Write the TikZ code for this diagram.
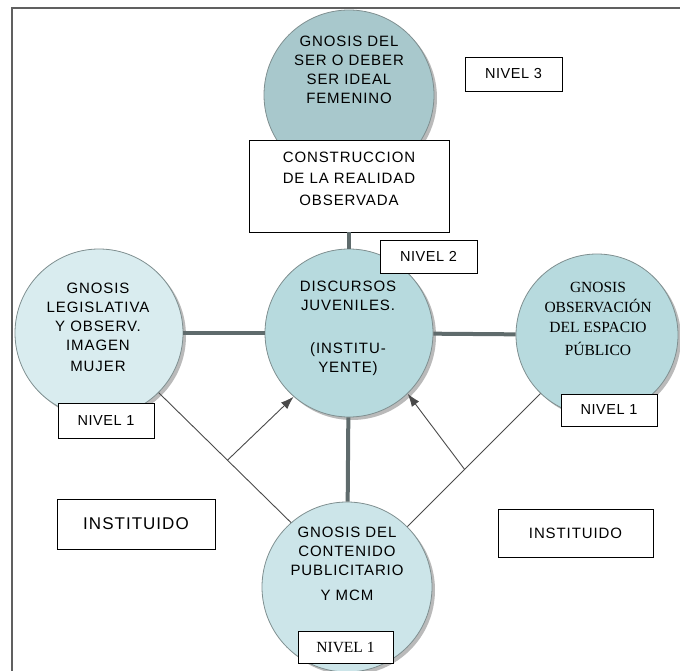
\documentclass[tikz,border=0pt]{standalone}
\usepackage{fontspec}
\setmainfont{Liberation Sans}
\newfontfamily\widesans[LetterSpace=6]{Liberation Sans}
\newfontfamily\nivelsans[LetterSpace=4]{Liberation Sans}
\newfontfamily\bigsans[LetterSpace=6]{Liberation Sans}
\newfontfamily\serifface{Liberation Serif}
\usepackage{tikz}
\usetikzlibrary{arrows.meta,shadows,positioning}

\definecolor{tealdark}{HTML}{A8C8CC}
\definecolor{tealmid}{HTML}{B7DADE}
\definecolor{tealpale}{HTML}{D9ECEF}
\definecolor{teallight}{HTML}{CCE5E9}
\definecolor{rimgray}{HTML}{7F8F90}
\definecolor{trunkgray}{HTML}{5F6B6C}
\definecolor{twiggray}{HTML}{4A4A4A}
\definecolor{framegray}{HTML}{606060}

\begin{document}
\begin{tikzpicture}[x=1pt, y=-1pt,
    bubble/.style={circle, draw=rimgray, line width=0.8pt, inner sep=0pt,
      drop shadow={shadow xshift=3pt, shadow yshift=-3pt, fill=black!45, opacity=0.6}},
    plainbox/.style={draw=black, fill=white, line width=0.8pt, inner sep=0pt},
    nivelbox/.style={plainbox, minimum width=97pt, minimum height=34pt,
      font=\nivelsans\fontsize{14.5}{17}\selectfont},
    capstext/.style={align=center, font=\widesans\fontsize{15}{19}\selectfont},
    trunk/.style={draw=trunkgray, line width=4pt},
    twig/.style={draw=twiggray, line width=0.9pt}]
  \useasboundingbox (0,0) rectangle (680,671);
  % frame
  \draw[framegray, line width=1.5pt] (12,671) -- (12,8) -- (680,8);

  % circles
  \node[bubble, fill=tealdark, minimum size=170pt] (ser) at (349,95) {};
  \node[bubble, fill=tealmid, minimum size=168pt] (disc) at (349,333) {};
  \node[bubble, fill=tealpale, minimum size=168pt] (legis) at (99,333) {};
  \node[bubble, fill=tealmid, minimum size=162pt] (espacio) at (597,335) {};
  \node[bubble, fill=teallight, minimum size=170pt] (publi) at (347,587) {};

  % observed reality box over the top circle
  \node[plainbox, minimum width=200pt, minimum height=92pt] (constr) at (349,186) {};

  % connectors
  \draw[trunk] (constr) -- (disc);
  \draw[trunk] (legis) -- (disc);
  \draw[trunk] (disc) -- (espacio);
  \draw[trunk] (disc) -- (publi);
  \draw[twig] (legis.-45) -- coordinate[pos=0.52] (lfork) (publi.131);
  \draw[twig] (espacio.226) -- coordinate[pos=0.57] (rfork) (publi.45);
  \draw[twig, -{Latex[length=13pt,width=9pt]}] (lfork) -- (disc.229);
  \draw[twig, -{Latex[length=13pt,width=9pt]}] (rfork) -- (disc.-46);

  % texts
  \node[capstext] (sertext) at (349,70) {GNOSIS DEL\\SER O DEBER\\SER IDEAL\\FEMENINO};
  \node[capstext, font=\widesans\fontsize{15}{21.5}\selectfont] (constrtext) at (349,178.5)
    {CONSTRUCCION\\DE LA REALIDAD\\OBSERVADA};
  \node[capstext] (disctext) at (348,328.5) {DISCURSOS\\JUVENILES.\\[24pt](INSTITU-\\YENTE)};
  \node[capstext] (legistext) at (98,327.5) {GNOSIS\\LEGISLATIVA\\Y OBSERV.\\IMAGEN\\[2pt]MUJER};
  \node[align=center, font=\serifface\fontsize{15.5}{20}\selectfont] (espaciotext) at (598,319)
    {GNOSIS\\OBSERVACIÓN\\DEL ESPACIO\\[3pt]PÚBLICO};
  \node[capstext] (publitext) at (347,564) {GNOSIS DEL\\CONTENIDO\\PUBLICITARIO\\[6pt]Y MCM};

  % level tags
  \node[nivelbox] (nivel3) at (513.5,74) {NIVEL 3};
  \node[nivelbox, minimum height=33pt] (nivel2) at (428.5,256.5) {NIVEL 2};
  \node[nivelbox, minimum width=96pt, minimum height=35pt] (nivelleft) at (106,420.5) {NIVEL 1};
  \node[nivelbox, minimum width=96pt, minimum height=32pt] (nivelright) at (609,410) {NIVEL 1};
  \node[nivelbox, minimum width=95pt, minimum height=32pt, font=\serifface\fontsize{15.5}{18}\selectfont]
    (nivelbottom) at (345.5,647) {NIVEL 1};

  % instituted boxes
  \node[plainbox, minimum width=158pt, minimum height=50pt, font=\bigsans\fontsize{17}{20}\selectfont]
    (instleft) at (136,524) {INSTITUIDO};
  \node[plainbox, minimum width=155pt, minimum height=48pt, font=\widesans\fontsize{15}{17}\selectfont]
    (instright) at (575.5,533) {INSTITUIDO};
\end{tikzpicture}
\end{document}
